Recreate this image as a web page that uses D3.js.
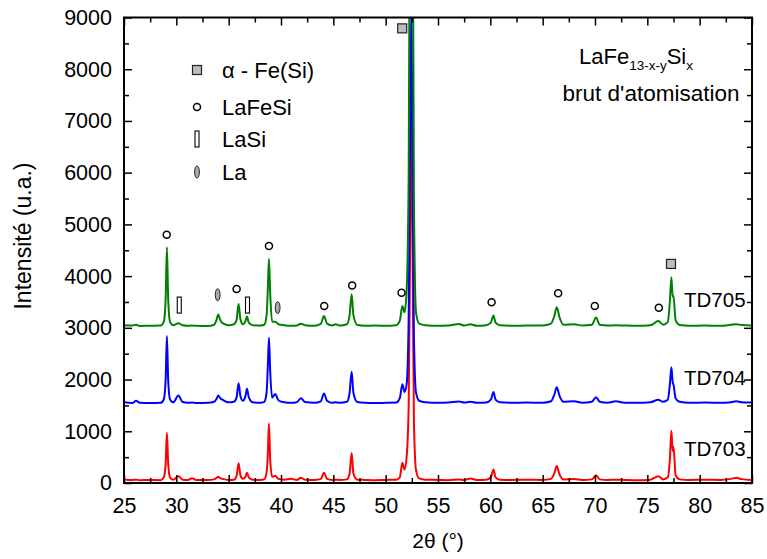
<!DOCTYPE html>
<html><head><meta charset="utf-8">
<script src="https://cdn.jsdelivr.net/npm/d3@7"></script>
<style>body{margin:0;background:#fff} text{font-family:"Liberation Sans",Arial,sans-serif;fill:#000}</style>
</head><body><svg id="c" width="767" height="559"></svg>
<script>
// ---- data ----
const twoTheta = [25.0,25.8,26.15,26.5,27.5,28.5,28.8,28.98,29.1,29.22,29.4,29.7,30.2,30.6,31.1,31.5,31.9,33.0,33.6,33.85,34.0,34.2,34.5,35.0,35.5,35.75,35.95,36.12,36.35,36.6,36.75,36.92,37.3,38.0,38.4,38.62,38.75,38.85,38.97,39.15,39.45,39.75,40.3,41.0,41.5,41.9,42.3,43.2,43.8,44.1,44.4,44.9,45.2,45.6,46.3,46.55,46.75,46.92,47.3,48.0,49.0,50.0,51.0,51.35,51.6,51.8,52.0,52.2,52.35,52.45,52.55,52.7,52.9,53.2,53.8,55.0,56.0,57.0,57.5,58.1,58.7,59.6,60.05,60.3,60.5,60.9,62.0,63.5,65.0,65.8,66.1,66.35,66.6,67.0,68.0,68.8,69.7,70.1,70.45,71.2,72.0,72.8,74.0,75.3,76.05,76.5,76.95,77.15,77.3,77.42,77.5,77.7,78.1,79.0,80.5,82.0,83.0,83.5,84.0,85.0];
const td703 = [70,60,65,55,60,55,105,380,970,380,105,65,130,65,60,90,60,60,70,100,120,95,75,60,65,130,380,150,80,120,200,110,65,60,70,200,600,1150,450,120,140,80,65,80,60,100,65,60,75,200,80,60,65,60,70,180,580,180,65,60,55,60,65,110,390,260,500,1500,5000,7500,5000,1200,250,90,65,60,55,70,60,85,60,65,110,260,110,65,60,65,60,80,180,330,170,70,75,60,70,150,70,60,65,60,55,65,130,70,110,450,1010,620,700,150,70,60,65,60,80,100,75,60];
const td704 = [1560,1545,1590,1550,1545,1550,1615,2000,2840,2000,1615,1560,1690,1565,1550,1555,1545,1550,1570,1630,1690,1640,1600,1560,1570,1650,1930,1680,1590,1680,1820,1660,1560,1550,1570,1740,2300,2810,2150,1650,1720,1600,1560,1550,1560,1640,1565,1550,1580,1730,1590,1550,1560,1550,1570,1740,2150,1740,1565,1550,1545,1550,1555,1640,1910,1760,1900,3200,7000,9200,7000,2800,1750,1590,1560,1550,1555,1575,1555,1570,1550,1555,1610,1760,1610,1560,1550,1555,1550,1580,1700,1850,1690,1570,1580,1550,1570,1660,1570,1550,1580,1550,1550,1560,1610,1570,1610,1900,2240,1950,1900,1640,1570,1550,1555,1550,1560,1580,1560,1555];
const td705 = [3050,3045,3060,3035,3040,3045,3116,3570,4560,3570,3116,3050,3090,3050,3040,3045,3040,3035,3060,3160,3260,3150,3080,3050,3070,3150,3460,3170,3070,3130,3220,3100,3050,3045,3060,3240,3800,4330,3650,3120,3120,3070,3050,3040,3045,3080,3050,3040,3075,3230,3080,3045,3070,3045,3070,3240,3650,3240,3055,3040,3045,3040,3050,3140,3420,3300,3700,6000,14000,20000,14000,5500,3300,3080,3050,3040,3045,3075,3045,3070,3040,3050,3100,3240,3100,3050,3040,3045,3045,3080,3220,3400,3210,3060,3070,3045,3060,3200,3060,3045,3050,3045,3040,3050,3130,3060,3110,3500,3980,3600,3620,3150,3055,3040,3045,3040,3060,3070,3055,3045];
const seriesNames = ["TD703","TD704","TD705"];
const seriesColors = ["#ff0000","#0000ff","#008000"];
const xTickValues = [25,30,35,40,45,50,55,60,65,70,75,80,85];
const yTickValues = [0,1000,2000,3000,4000,5000,6000,7000,8000,9000];
// phase markers (2theta, intensity)
const feSiMarks = [[51.58,8790],[77.26,4236]];
const laFeSiMarks = [[29.08,4800],[35.76,3750],[38.85,4580],[44.13,3420],[46.8,3820],[51.52,3680],[60.12,3495],[66.48,3670],[69.98,3420],[76.1,3390]];
const laSiMarks = [[30.28,3440],[36.8,3440]];
const laMarks = [[33.95,3640],[39.68,3390]];
const legendLabels = ["α - Fe(Si)","LaFeSi","LaSi","La"];

// ---- chart ----
const svg = d3.select("#c");
const L=124,R=752,T=17.5,B=483;
const x = d3.scaleLinear().domain([25,85]).range([L,R]);
const y = d3.scaleLinear().domain([0,9000]).range([B,T]);

svg.append("clipPath").attr("id","clip").append("rect")
  .attr("x",L).attr("y",T).attr("width",R-L).attr("height",B-T);

const line = d3.line().x((d,i)=>x(twoTheta[i])).y(d=>y(d)).curve(d3.curveMonotoneX);
const gData = svg.append("g").attr("clip-path","url(#clip)");
[td703,td704,td705].forEach((s,k)=>{
  gData.append("path").datum(s).attr("d",line).attr("fill","none")
    .attr("stroke",seriesColors[k]).attr("stroke-width",2).attr("stroke-linejoin","round");
});

// ticks (inward, mirrored)
const minorX = d3.range(27.5,85,5);
const minorY = d3.range(500,9000,1000);
function tickAxis(axisFn, scale, vals, size, tr){
  const g = svg.append("g").attr("transform",tr)
    .call(axisFn(scale).tickValues(vals).tickSize(size).tickFormat(""));
  g.select(".domain").remove();
  g.selectAll("line").attr("stroke","#000").attr("stroke-width",1.5);
}
tickAxis(d3.axisBottom,x,xTickValues,-8,`translate(0,${B})`);
tickAxis(d3.axisBottom,x,minorX,-5,`translate(0,${B})`);
tickAxis(d3.axisTop,x,xTickValues,-8,`translate(0,${T})`);
tickAxis(d3.axisTop,x,minorX,-5,`translate(0,${T})`);
tickAxis(d3.axisLeft,y,yTickValues,-8,`translate(${L},0)`);
tickAxis(d3.axisLeft,y,minorY,-5,`translate(${L},0)`);
tickAxis(d3.axisRight,y,yTickValues,-8,`translate(${R},0)`);
tickAxis(d3.axisRight,y,minorY,-5,`translate(${R},0)`);

// labels
const gx = svg.append("g").attr("transform",`translate(0,${B})`)
  .call(d3.axisBottom(x).tickValues(xTickValues).tickSize(0).tickPadding(15).tickFormat(d3.format("d")));
gx.select(".domain").remove();
gx.selectAll("text").attr("font-size",21.5).attr("font-family","Liberation Sans, Arial");
const gy = svg.append("g").attr("transform",`translate(${L},0)`)
  .call(d3.axisLeft(y).tickValues(yTickValues).tickSize(0).tickPadding(12).tickFormat(d3.format("d")));
gy.select(".domain").remove();
gy.selectAll("text").attr("font-size",21.5).attr("font-family","Liberation Sans, Arial");

svg.append("rect").attr("x",L).attr("y",T).attr("width",R-L).attr("height",B-T)
  .attr("fill","none").attr("stroke","#000").attr("stroke-width",2);

svg.append("text").attr("x",(L+R)/2).attr("y",548).attr("text-anchor","middle")
  .attr("font-size",21).text("2θ (°)");
svg.append("text").attr("transform","translate(31,236) rotate(-90)").attr("text-anchor","middle")
  .attr("font-size",23).text("Intensité (u.a.)");

// markers
function drawSquare(g,cx,cy){ g.append("rect").attr("x",cx-4.5).attr("y",cy-4.5).attr("width",9).attr("height",9)
  .attr("fill","#bdbdbd").attr("stroke","#222").attr("stroke-width",1.2); }
function drawCircle(g,cx,cy){ g.append("circle").attr("cx",cx).attr("cy",cy).attr("r",3.5)
  .attr("fill","#fff").attr("stroke","#000").attr("stroke-width",1.5); }
function drawBar(g,cx,cy){ g.append("rect").attr("x",cx-2).attr("y",cy-8).attr("width",4).attr("height",16)
  .attr("fill","#fff").attr("stroke","#000").attr("stroke-width",1.1); }
function drawEll(g,cx,cy){ g.append("ellipse").attr("cx",cx).attr("cy",cy).attr("rx",2.4).attr("ry",6)
  .attr("fill","#aaa").attr("stroke","#222").attr("stroke-width",1); }
const gm = svg.append("g");
feSiMarks.forEach(d=>drawSquare(gm,x(d[0]),y(d[1])));
laFeSiMarks.forEach(d=>drawCircle(gm,x(d[0]),y(d[1])));
laSiMarks.forEach(d=>drawBar(gm,x(d[0]),y(d[1])));
laMarks.forEach(d=>drawEll(gm,x(d[0]),y(d[1])));

// legend
const drawers=[drawSquare,drawCircle,drawBar,drawEll];
const legY=[70,107,139,172];
legendLabels.forEach((t,i)=>{
  drawers[i](svg,197,legY[i]);
  svg.append("text").attr("x",222).attr("y",legY[i]).attr("dy","0.35em").attr("font-size",22).text(t);
});

// series labels
const seriesLabelY=[449,378,300];
seriesNames.forEach((n,i)=>{
  svg.append("text").attr("x",684).attr("y",seriesLabelY[i]).attr("dy","0.35em").attr("font-size",20.5).text(n);
});

// formula annotation
const ft = svg.append("text").attr("x",579).attr("y",64).attr("font-size",22);
ft.append("tspan").text("LaFe");
ft.append("tspan").attr("font-size",13.5).attr("dy",6).text("13-x-y");
ft.append("tspan").attr("dy",-6).text("Si");
ft.append("tspan").attr("font-size",13.5).attr("dy",6).text("x");
svg.append("text").attr("x",651).attr("y",101).attr("text-anchor","middle").attr("font-size",22.5).text("brut d'atomisation");
</script></body></html>
